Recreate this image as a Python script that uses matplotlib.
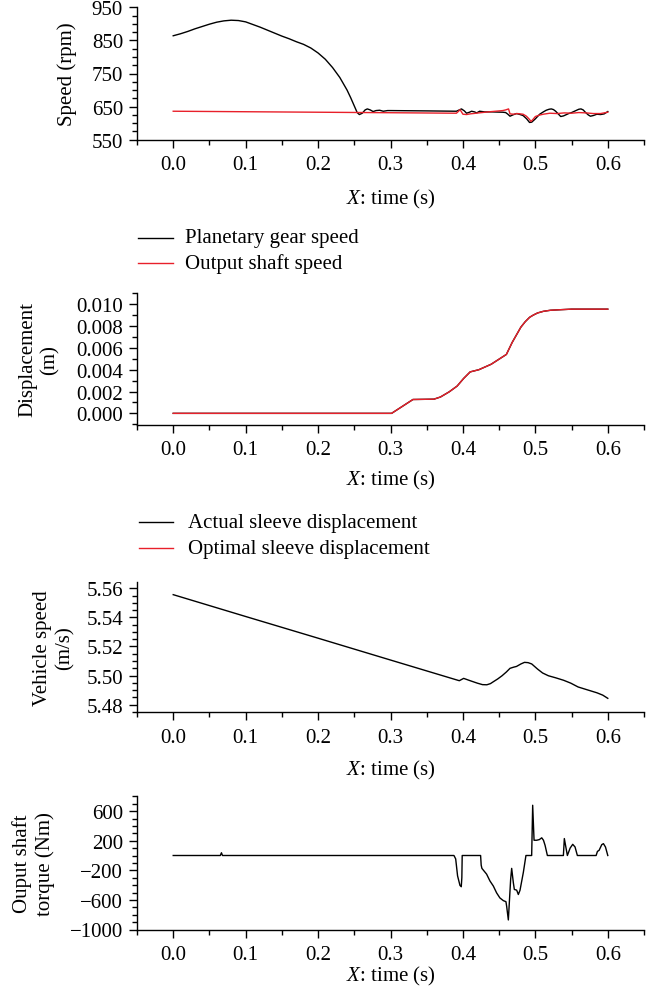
import matplotlib
matplotlib.use("Agg")
import matplotlib.pyplot as plt
from matplotlib.ticker import MultipleLocator, FuncFormatter
from matplotlib.lines import Line2D

plt.rcParams['font.family'] = ['Liberation Serif', 'DejaVu Serif']
plt.rcParams['mathtext.fontset'] = 'custom'
plt.rcParams['mathtext.it'] = 'Liberation Serif:italic'
plt.rcParams['mathtext.rm'] = 'Liberation Serif'

# ---------------- data ----------------
# Panel 1: speeds (rpm)
planet_t = [0, 0.01, 0.02, 0.03, 0.04, 0.05, 0.06, 0.07, 0.08, 0.09, 0.1, 0.11, 0.12,
            0.13, 0.14, 0.15, 0.16, 0.17, 0.18, 0.19, 0.2, 0.21, 0.22, 0.23, 0.24,
            0.245, 0.25, 0.254, 0.257, 0.261, 0.265, 0.268, 0.272, 0.276, 0.28,
            0.285, 0.29, 0.296, 0.3, 0.35, 0.391, 0.395, 0.398, 0.402, 0.405,
            0.409, 0.412, 0.416, 0.419, 0.423, 0.43, 0.44, 0.455, 0.459, 0.462,
            0.465, 0.469, 0.474, 0.479, 0.483, 0.488, 0.492, 0.495, 0.5, 0.506,
            0.511, 0.515, 0.519, 0.522, 0.525, 0.528, 0.532, 0.535, 0.539, 0.542,
            0.546, 0.55, 0.556, 0.56, 0.563, 0.566, 0.569, 0.573, 0.576, 0.58,
            0.585, 0.59, 0.595, 0.6]
planet_speed = [864, 870, 877, 885, 892, 899, 905, 909, 911, 910, 906, 898, 890,
                881, 872, 863, 855, 846, 838, 827, 812, 793, 768, 738, 700,
                677, 652, 632, 626, 630, 640, 643, 640, 635, 638,
                639, 636, 638, 638, 637, 636, 640, 643, 637, 630,
                633, 636, 634, 631, 636, 634, 634, 633, 632, 627,
                621, 625, 629, 626, 623, 613, 602, 603, 613, 627,
                634, 639, 642, 643, 641, 636, 627, 620, 622, 625,
                629, 632, 638, 642, 643, 640, 633, 625, 621, 623,
                627, 626, 628, 635]

output_t = [0, 0.1, 0.2, 0.3, 0.391, 0.394, 0.396, 0.398, 0.40, 0.405, 0.41, 0.422,
            0.435, 0.445, 0.455, 0.459, 0.463, 0.465, 0.47, 0.475, 0.483, 0.487,
            0.489, 0.492, 0.494, 0.497, 0.50, 0.505, 0.511, 0.52, 0.53, 0.54,
            0.55, 0.56, 0.57, 0.58, 0.59, 0.6]
output_speed = [636, 634.5, 633, 631.5, 630, 636, 641, 634, 627, 626, 628, 631,
                634, 636, 638, 640, 643, 628, 627, 629, 627, 622,
                618, 611, 605, 612, 620, 624, 627, 630, 629, 631,
                630, 632, 631, 629, 629, 633]

# Panel 2: sleeve displacement (m)
disp_t = [0, 0.3015, 0.331, 0.36, 0.369, 0.381, 0.392, 0.401, 0.41, 0.422, 0.439,
          0.46, 0.468, 0.48, 0.486, 0.492, 0.497, 0.503, 0.511, 0.521, 0.535, 0.55, 0.6]
actual_disp = [0, 0, 0.00127, 0.0013, 0.0015, 0.00197, 0.0025, 0.0032, 0.0038,
               0.0040, 0.0045, 0.0054, 0.0065, 0.0079, 0.0084, 0.0088, 0.0090,
               0.0092, 0.00935, 0.00945, 0.0095, 0.00955, 0.00955]
optimal_disp = [0, 0, 0.00127, 0.0013, 0.0015, 0.00197, 0.0025, 0.0032, 0.0038,
                0.0040, 0.0045, 0.0054, 0.0065, 0.0079, 0.0084, 0.0088, 0.0090,
                0.0092, 0.00935, 0.00945, 0.0095, 0.00955, 0.00955]

# Panel 3: vehicle speed (m/s)
veh_t = [0, 0.1, 0.2, 0.3, 0.395, 0.401, 0.41, 0.42, 0.427, 0.433, 0.438, 0.442,
         0.448, 0.454, 0.46, 0.465, 0.47, 0.474, 0.48, 0.485, 0.49, 0.495, 0.503,
         0.51, 0.518, 0.528, 0.539, 0.549, 0.559, 0.57, 0.585, 0.593, 0.6]
veh_speed = [5.5556, 5.5406, 5.5257, 5.5107, 5.4965, 5.4981, 5.4965, 5.4948, 5.4938,
             5.4937, 5.4945, 5.4958, 5.4977, 5.4999, 5.5025, 5.5050, 5.5058, 5.5063,
             5.5080, 5.5091, 5.5089, 5.5080, 5.5045, 5.5018, 5.4999, 5.4985, 5.4968,
             5.4948, 5.4922, 5.4905, 5.4882, 5.4866, 5.4844]

# Panel 4: output shaft torque (Nm)
torque_t = [0, 0.065, 0.0666, 0.068, 0.3876, 0.390, 0.3926, 0.3959, 0.3977, 0.3985,
            0.399, 0.4244, 0.4252, 0.4262, 0.4327, 0.4373, 0.442, 0.4465, 0.451,
            0.4558, 0.4594, 0.4604, 0.4627, 0.4659, 0.4673, 0.4696, 0.471, 0.4742,
            0.4765, 0.4788, 0.4834, 0.487, 0.4949, 0.4963, 0.4982, 0.5018, 0.5055,
            0.5088, 0.5112, 0.5134, 0.5166, 0.528, 0.5387, 0.540, 0.5442, 0.548,
            0.5516, 0.5548, 0.558, 0.5839, 0.5857, 0.588, 0.5917, 0.594, 0.5968, 0.6]
torque = [0, 0, 37, 0, 0, -46, -275, -404, -422, -300,
          0, 0, -130, -174, -252, -344, -413, -505, -573,
          -610, -624, -688, -871, -321, -174, -367, -459, -468,
          -527, -470, -229, 0, 0, 679, 206, 206, 215,
          239, 206, 138, 0, 0, 0, 229, 0, 100,
          151, 115, 0, 0, 55, 70, 147, 160, 115, 0]

speed_ticks = [550, 650, 750, 850, 950]
torque_ticks = [-1000, -600, -200, 200, 600]

# ---------------- style ----------------
RED = '#e8202a'
FS = 15
W, H = 664, 995

fig = plt.figure(figsize=(W / 100, H / 100), dpi=100)


def axes_px(top, bottom, left=137, right=644):
    return fig.add_axes([left / W, 1 - bottom / H, (right - left) / W, (bottom - top) / H])


def fmt(pattern):
    return FuncFormatter(lambda v, p: (pattern % v).replace('-', '\u2212'))


def style(ax, ylim, yticks, yminor, yfmt, xlabel_y, bottom_px, top_px):
    ax.set_xlim(-0.05, 0.65)
    ax.set_ylim(*ylim)
    for s in ('top', 'right'):
        ax.spines[s].set_visible(False)
    for s in ('left', 'bottom'):
        ax.spines[s].set_linewidth(1.0)
    ax.xaxis.set_major_locator(MultipleLocator(0.1))
    ax.xaxis.set_minor_locator(MultipleLocator(0.05))
    ax.set_yticks(yticks)
    ax.yaxis.set_minor_locator(MultipleLocator(yminor))
    ax.xaxis.set_major_formatter(fmt('%.1f'))
    ax.yaxis.set_major_formatter(fmt(yfmt))
    ax.tick_params(which='major', direction='out', length=6, width=1.0,
                   labelsize=FS, pad=4)
    ax.tick_params(which='minor', direction='out', length=3.5, width=1.0)
    ax.tick_params(axis='x', which='major', pad=5)
    ax.set_ylim(*ylim)
    ax.set_xlabel(r'$X$: time (s)', fontsize=FS)
    hpx = bottom_px - top_px
    ax.xaxis.set_label_coords(0.5, -(xlabel_y - bottom_px) / hpx)
    ax.xaxis.label.set_va('center')


def ylabel(x_px, top_px, bottom_px, text):
    fig.text(x_px / W, 1 - (top_px + bottom_px) / 2 / H, text, rotation=90,
             ha='center', va='center', fontsize=FS, multialignment='center',
             linespacing=1.2)


def legend(entries, x0, x1, xt):
    for y, label, col in entries:
        fig.add_artist(Line2D([x0 / W, x1 / W], [1 - y / H, 1 - y / H],
                              color=col, lw=1.0, transform=fig.transFigure))
        fig.text(xt / W, 1 - y / H, label, ha='left', va='center', fontsize=FS)


# Panel 1
ax1 = axes_px(8.3, 140.7)
ax1.plot(planet_t, planet_speed, color='black', lw=1.0)
ax1.plot(output_t, output_speed, color=RED, lw=1.0)
style(ax1, (550, 950), speed_ticks, 25, '%d', 199, 140.7, 8.3)
ylabel(67, 8.3, 140.7, 'Speed (rpm)')
legend([(239, 'Planetary gear speed', 'black'), (264, 'Output shaft speed', RED)],
       138, 173, 185)

# Panel 2
ax2 = axes_px(294, 425.7)
ax2.plot(disp_t, actual_disp, color='black', lw=1.0)
ax2.plot(disp_t, optimal_disp, color=RED, lw=1.0)
style(ax2, (-0.00104, 0.01103), [0, 0.002, 0.004, 0.006, 0.008, 0.010], 0.001,
      '%.3f', 480, 425.7, 294)
ylabel(39, 294, 425.7, 'Displacement\n(m)')
legend([(523.3, 'Actual sleeve displacement', 'black'),
        (549.3, 'Optimal sleeve displacement', RED)], 139, 173, 188)

# Panel 3
ax3 = axes_px(582.7, 713.3)
ax3.plot(veh_t, veh_speed, color='black', lw=1.0)
style(ax3, (5.4748, 5.5645), [5.48, 5.50, 5.52, 5.54, 5.56], 0.005, '%.2f',
      770, 713.3, 582.7)
ylabel(54, 582.7, 713.3, 'Vehicle speed\n(m/s)')

# Panel 4
ax4 = axes_px(797.3, 930.5)
ax4.plot(torque_t, torque, color='black', lw=1.0)
style(ax4, (-1000, 800), torque_ticks, 100, '%d', 976, 930.5, 797.3)
ylabel(33.5, 797.3, 930.5, 'Ouput shaft\ntorque (Nm)')

fig.savefig('out.png', dpi=100)
